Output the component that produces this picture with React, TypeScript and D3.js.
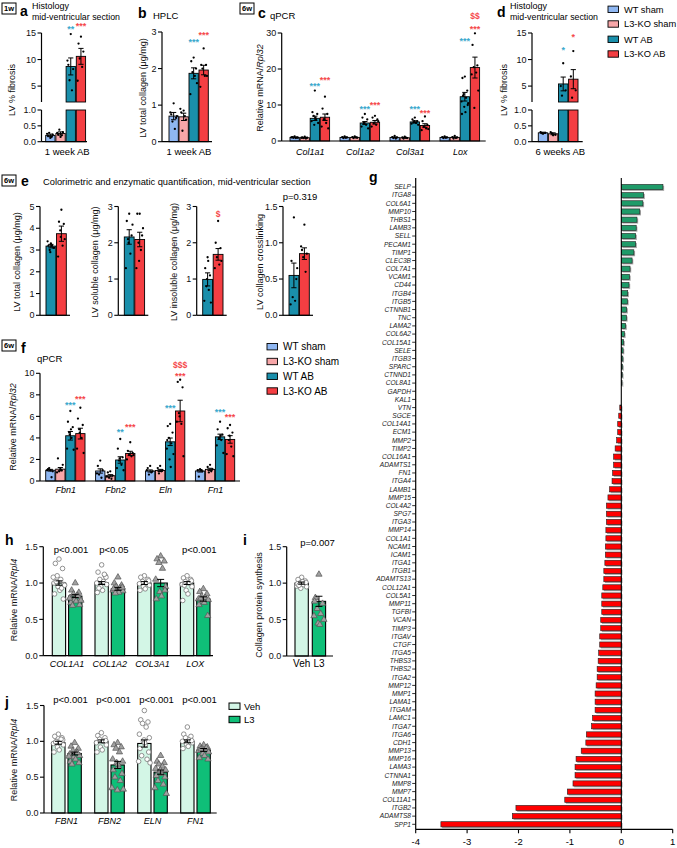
import React from "react";
import * as d3 from "d3";

const FONT = "'Liberation Sans', Arial, Helvetica, sans-serif";
const C4 = ["#8fb7f2", "#f7a6a8", "#1a8fab", "#f43e42"];
const STAR_T = "#3aa9cd";
const STAR_R = "#f5484b";
const C_VEH = "#d3f6e6";
const C_L3 = "#0fbf78";
const G_POS = "#1f9b69";
const G_NEG = "#ff0000";

const groupLabels = ["WT sham", "L3-KO sham", "WT AB", "L3-KO AB"];

// ---- panel a (1 week, histology) ----
const aMean = [0.2, 0.26, 8.7, 10.6];
const aSem = [0.04, 0.05, 1.6, 1.5];
const aPts = [
  [0.12, 0.18, 0.22, 0.28, 0.15, 0.25],
  [0.15, 0.22, 0.3, 0.38, 0.2, 0.28],
  [14.8, 9.0, 8.2, 6.1, 4.2, 9.8],
  [14.3, 13.0, 11.5, 10.2, 8.6, 6.0],
];
const aStars = [
  { s: 2, t: "**", v: 15.9 },
  { s: 3, t: "***", v: 16.5 },
];

// ---- panel b (HPLC) ----
const bMean = [0.7, 0.68, 1.87, 1.96];
const bSem = [0.1, 0.1, 0.15, 0.13];
const bPts = [
  [1.05, 0.75, 0.65, 0.55, 0.35, 0.8, 0.7],
  [0.85, 0.8, 0.6, 0.3, 0.7, 0.9],
  [2.3, 2.2, 2.0, 1.9, 1.8, 1.3, 1.6],
  [2.55, 2.1, 2.1, 2.0, 1.8, 1.5, 1.8],
];
const bStars = [
  { s: 2, t: "***", v: 2.75 },
  { s: 3, t: "***", v: 2.95 },
];

// ---- panel c (qPCR collagen) ----
const cGenes = ["Col1a1", "Col1a2", "Col3a1", "Lox"];
const cMean = [
  [1.0, 0.9, 6.3, 6.6],
  [1.0, 1.0, 5.0, 5.2],
  [1.0, 0.9, 5.3, 4.3],
  [1.0, 1.0, 12.3, 20.4],
];
const cSem = [
  [0.1, 0.1, 0.6, 0.9],
  [0.1, 0.1, 0.4, 0.5],
  [0.1, 0.1, 0.3, 0.5],
  [0.1, 0.1, 1.2, 2.9],
];
const cPts = [
  [[1.3, 1.1, 1.0, 0.9, 0.8, 1.0, 0.9], [1.2, 1.0, 0.9, 0.8, 0.7, 0.9], [14, 8, 7.5, 7, 6, 5.5, 5, 4.5, 6.5], [12.3, 9, 7.5, 6, 5, 4, 3.5, 6]],
  [[1.3, 1.1, 1.0, 0.8, 0.9], [1.3, 1.1, 0.9, 0.8, 1.0], [7.5, 6.5, 6, 5, 4.5, 4, 3.5, 5], [7, 6.5, 6, 5, 4.5, 4, 5.5]],
  [[1.4, 1.1, 1.0, 0.8, 0.7], [1.2, 1.0, 0.8, 0.7, 0.9], [6.5, 6, 5.5, 5.2, 5, 4.8, 4.5, 5.5], [6.8, 5.5, 4.5, 4, 3.5, 3, 3.3]],
  [[1.3, 1.1, 1.0, 0.8, 0.9], [1.4, 1.1, 1.0, 0.7, 0.8], [17.9, 17.5, 14, 13, 12, 11, 10.5, 9.5, 8, 7.5, 10, 12.5], [29.9, 26.7, 21, 20.5, 19, 18.5, 14, 9.2]],
];
const cStars = [
  { g: 0, s: 2, t: "***", v: 15.6 },
  { g: 0, s: 3, t: "***", v: 17.2 },
  { g: 1, s: 2, t: "***", v: 9.2 },
  { g: 1, s: 3, t: "***", v: 10.3 },
  { g: 2, s: 2, t: "***", v: 9.2 },
  { g: 2, s: 3, t: "***", v: 8.2 },
  { g: 3, s: 2, t: "***", v: 28 },
  { g: 3, s: 3, t: "***", v: 31.5 },
  { g: 3, s: 3, t: "$$", v: 34.6 },
];

// ---- panel d (6 weeks, histology) ----
const dMean = [0.28, 0.25, 5.4, 6.3];
const dSem = [0.02, 0.03, 1.3, 1.8];
const dPts = [
  [0.25, 0.3, 0.28, 0.27],
  [0.2, 0.3, 0.22, 0.26],
  [9.3, 5.0, 4.2, 3.2],
  [11.6, 6.8, 4.2, 2.8],
];
const dStars = [
  { s: 2, t: "*", v: 12.0 },
  { s: 3, t: "*", v: 14.4 },
];

// ---- panel e (colorimetric) ----
const eLabels = ["LV total collagen (μg/mg)", "LV soluble collagen (μg/mg)", "LV insoluble collagen (μg/mg)", "LV collagen crosslinking"];
const eMax = [5, 3, 3, 1.5];
const eTicks = [[0, 1, 2, 3, 4, 5], [0, 1, 2, 3], [0, 1, 2, 3], [0, 0.5, 1.0, 1.5]];
const eMean = [[3.18, 3.75], [2.16, 2.09], [0.99, 1.68], [0.55, 0.85]];
const eSem = [[0.08, 0.35], [0.2, 0.2], [0.18, 0.16], [0.17, 0.08]];
const ePts = [
  [[3.3, 3.2, 3.1, 3.0, 3.2, 3.4, 3.1, 2.9, 3.2], [4.85, 4.3, 4.2, 3.9, 3.2, 2.7, 3.5, 3.6]],
  [[2.8, 2.6, 2.2, 2.1, 1.7, 1.3, 2.5, 2.0], [2.8, 2.8, 2.2, 2.0, 1.8, 1.3, 2.4, 1.5]],
  [[1.6, 1.3, 1.1, 0.8, 0.7, 0.4, 0.35, 1.0, 1.5], [2.6, 2.0, 1.85, 1.6, 1.4, 1.3, 1.5]],
  [[1.35, 0.75, 0.5, 0.25, 0.2, 0.15, 0.65], [1.25, 0.9, 0.85, 0.8, 0.6, 0.95]],
];

// ---- panel f (qPCR ECM) ----
const fGenes = ["Fbn1", "Fbn2", "Eln", "Fn1"];
const fMean = [
  [1.0, 1.1, 4.2, 4.4],
  [0.93, 0.49, 1.95, 2.56],
  [0.93, 0.98, 3.64, 6.5],
  [0.93, 1.08, 4.1, 3.86],
];
const fSem = [
  [0.08, 0.15, 0.4, 0.5],
  [0.2, 0.1, 0.3, 0.2],
  [0.1, 0.1, 0.35, 1.0],
  [0.1, 0.1, 0.25, 0.35],
];
const fPts = [
  [[1.0, 1.1, 0.9, 1.2, 0.35, 1.0], [1.1, 2.1, 1.5, 0.9, 1.0, 0.8], [6.5, 5.5, 5.0, 4.5, 4.0, 3.0, 2.9, 4.3, 4.8], [6.8, 5.8, 5.2, 4.8, 4.0, 3.0, 2.6, 4.5]],
  [[1.9, 1.4, 1.0, 0.6, 0.3, 0.7], [0.9, 0.8, 0.5, 0.3, 0.2, 0.4], [3.9, 3.0, 2.2, 1.9, 1.5, 1.2, 1.0, 2.1], [3.6, 2.8, 2.6, 2.5, 2.3, 2.0, 2.4]],
  [[1.4, 1.2, 0.9, 0.6, 0.8, 1.0], [1.4, 1.2, 1.0, 0.7, 0.9], [5.3, 5.1, 4.5, 4.0, 3.5, 3.0, 2.5, 2.0, 1.3, 3.8], [9.4, 9.2, 8.7, 6.3, 5.3, 5.5, 2.3, 6.0]],
  [[1.1, 1.0, 0.9, 0.4, 1.0], [1.5, 1.3, 1.1, 0.8, 0.9], [5.5, 4.8, 4.3, 4.0, 3.8, 3.3, 2.6, 4.0, 4.2], [5.2, 4.9, 4.5, 3.8, 3.2, 2.5, 2.3, 4.2]],
];
const fStars = [
  { g: 0, s: 2, t: "***", v: 7.2 },
  { g: 0, s: 3, t: "***", v: 7.7 },
  { g: 1, s: 2, t: "**", v: 4.7 },
  { g: 1, s: 3, t: "***", v: 5.1 },
  { g: 2, s: 2, t: "***", v: 6.9 },
  { g: 2, s: 3, t: "***", v: 9.9 },
  { g: 2, s: 3, t: "$$$", v: 10.8 },
  { g: 3, s: 2, t: "***", v: 6.5 },
  { g: 3, s: 3, t: "***", v: 6.1 },
];

// ---- panel g (array, log fold change) ----
const gGenes = ["SELP", "ITGA8", "COL6A1", "MMP10", "THBS1", "LAMB3", "SELL", "PECAM1", "TIMP1", "CLEC3B", "COL7A1", "VCAM1", "CD44", "ITGB4", "ITGB5", "CTNNB1", "TNC", "LAMA2", "COL6A2", "COL15A1", "SELE", "ITGB3", "SPARC", "CTNND1", "COL8A1", "GAPDH", "KAL1", "VTN", "SGCE", "COL14A1", "ECM1", "MMP2", "TIMP2", "COL16A1", "ADAMTS1", "FN1", "ITGA4", "LAMB1", "MMP15", "COL4A2", "SPG7", "ITGA3", "MMP14", "COL1A1", "NCAM1", "ICAM1", "ITGA1", "ITGB1", "ADAMTS13", "COL12A1", "COL5A1", "MMP11", "TGFBI", "VCAN", "TIMP3", "ITGAV", "CTGF", "ITGA5", "THBS3", "THBS2", "ITGA2", "MMP12", "MMP1", "LAMA1", "ITGAM", "LAMC1", "ITGA7", "ITGA6", "CDH1", "MMP13", "MMP16", "LAMA3", "CTNNA1", "MMP8", "MMP7", "COL11A1", "ITGB2", "ADAMTS8", "SPP1"];
const gValues = [0.81, 0.435, 0.42, 0.36, 0.305, 0.29, 0.28, 0.28, 0.245, 0.21, 0.17, 0.16, 0.15, 0.125, 0.12, 0.105, 0.1, 0.085, 0.06, 0.045, 0.035, 0.03, 0.025, 0.02, 0.015, 0.005, 0.003, -0.03, -0.05, -0.07, -0.07, -0.09, -0.12, -0.15, -0.15, -0.17, -0.18, -0.23, -0.26, -0.29, -0.29, -0.29, -0.3, -0.3, -0.31, -0.31, -0.32, -0.34, -0.34, -0.36, -0.38, -0.38, -0.38, -0.4, -0.4, -0.42, -0.42, -0.44, -0.45, -0.47, -0.47, -0.49, -0.51, -0.51, -0.51, -0.56, -0.58, -0.68, -0.69, -0.78, -0.88, -0.9, -0.9, -0.94, -1.05, -1.1, -2.05, -2.12, -3.51];
const gTicks = [-4, -3, -2, -1, 0, 1];

// ---- panels h, i, j (human cells) ----
const hjSeries = ["Veh", "L3"];
const hGenes = ["COL1A1", "COL1A2", "COL3A1", "LOX"];
const hMean = [[1.0, 0.82], [1.0, 0.92], [1.0, 1.0], [1.0, 0.78]];
const hSem = [[0.03, 0.02], [0.02, 0.02], [0.02, 0.05], [0.02, 0.03]];
const hP = ["p<0.001", "p<0.05", "", "p<0.001"];
const hPts = [
  [[1.33, 1.27, 1.2, 1.1, 1.05, 1.0, 0.98, 0.95, 0.9, 0.85, 0.78, 1.02, 0.93, 1.08, 0.97], [1.0, 0.9, 0.87, 0.85, 0.83, 0.8, 0.78, 0.77, 0.75, 0.73, 0.7, 0.69, 0.82, 0.79, 0.76]],
  [[1.25, 1.15, 1.1, 1.05, 1.02, 1.0, 0.98, 0.95, 0.9, 0.87, 1.08, 0.93, 1.12], [1.08, 1.0, 0.97, 0.95, 0.93, 0.9, 0.89, 0.88, 0.87, 0.92, 0.94, 0.86]],
  [[1.1, 1.08, 1.05, 1.02, 1.0, 0.99, 0.97, 0.95, 0.92, 0.9, 1.03], [1.37, 1.33, 1.3, 1.28, 1.2, 1.05, 0.95, 0.88, 0.82, 0.78, 0.9]],
  [[1.1, 1.07, 1.05, 1.02, 1.0, 0.98, 0.95, 0.9, 0.85, 0.76, 1.03, 0.97], [0.92, 0.88, 0.85, 0.82, 0.8, 0.78, 0.77, 0.75, 0.73, 0.7, 0.55, 0.79]],
];
const iLabels = ["Veh", "L3"];
const iMean = [1.0, 0.75];
const iSem = [0.015, 0.07];
const iP = "p=0.007";
const iPts = [
  [1.08, 1.05, 1.03, 1.0, 0.98, 0.96, 0.95, 0.93, 1.02, 0.99, 1.01, 0.97],
  [1.12, 0.8, 0.72, 0.65, 0.58, 0.55, 0.5, 0.45, 0.43, 0.75],
];
const jGenes = ["FBN1", "FBN2", "ELN", "FN1"];
const jMean = [[0.98, 0.83], [1.0, 0.67], [0.97, 0.57], [1.0, 0.88]];
const jSem = [[0.02, 0.02], [0.02, 0.05], [0.05, 0.03], [0.02, 0.02]];
const jP = ["p<0.001", "p<0.001", "p<0.001", "p<0.001"];
const jPts = [
  [[1.1, 1.07, 1.05, 1.0, 0.98, 0.97, 0.95, 0.92, 0.88, 0.85, 1.02, 0.99, 1.03], [0.98, 0.93, 0.9, 0.87, 0.85, 0.82, 0.8, 0.78, 0.75, 0.72, 0.7, 0.68, 0.84, 0.79]],
  [[1.12, 1.08, 1.05, 1.03, 1.0, 0.98, 0.95, 0.92, 0.88, 0.85, 1.01], [0.98, 0.95, 0.92, 0.9, 0.85, 0.75, 0.72, 0.7, 0.65, 0.6, 0.55, 0.5, 0.45, 0.35, 0.33, 0.32, 0.68]],
  [[1.43, 1.3, 1.27, 1.25, 1.2, 1.1, 1.05, 1.0, 0.95, 0.9, 0.85, 0.8, 0.75, 0.72, 0.7, 1.02, 0.98], [0.8, 0.72, 0.7, 0.68, 0.65, 0.62, 0.6, 0.58, 0.55, 0.52, 0.5, 0.45, 0.4, 0.35, 0.27, 0.6]],
  [[1.2, 1.1, 1.07, 1.05, 1.02, 1.0, 0.98, 0.96, 0.93, 0.9, 1.01], [0.95, 0.93, 0.92, 0.9, 0.88, 0.87, 0.85, 0.83, 0.8, 0.77, 0.75, 0.89, 0.91]],
];

// ---------- helpers ----------
const JIT = [0, -2.4, 2.4, -1.2, 1.2, -3.3, 3.3, -0.6, 0.6, -2.9, 2.9, -1.8, 1.8, -3.8, 3.8, -0.2, 0.2];

type Scale = (v: number) => number;

function YAxis({ x, y, ticks, fmt, top, bottom, fs = 9 }: { x: number; y: Scale; ticks: number[]; fmt: (v: number) => string; top: number; bottom: number; fs?: number }) {
  return (
    <g>
      <line x1={x} x2={x} y1={top} y2={bottom} stroke="#000" strokeWidth={1.2} />
      {ticks.map((t) => (
        <g key={t}>
          <line x1={x - 4} x2={x} y1={y(t)} y2={y(t)} stroke="#000" strokeWidth={1.1} />
          <text x={x - 5.5} y={y(t)} dy="0.35em" textAnchor="end" fontSize={fs} fill="#111">
            {fmt(t)}
          </text>
        </g>
      ))}
    </g>
  );
}

function VLabel({ x, y, children, fs = 9 }: { x: number; y: number; children: any; fs?: number }) {
  return (
    <text transform={`translate(${x},${y}) rotate(-90)`} textAnchor="middle" fontSize={fs} fill="#111">
      {children}
    </text>
  );
}

function ErrBar({ cx, y1, y2, cap = 2.6 }: { cx: number; y1: number; y2: number; cap?: number }) {
  return (
    <g stroke="#000" strokeWidth={1}>
      <line x1={cx} x2={cx} y1={y1} y2={y2} />
      <line x1={cx - cap} x2={cx + cap} y1={y1} y2={y1} />
      <line x1={cx - cap} x2={cx + cap} y1={y2} y2={y2} />
    </g>
  );
}

function Dots({ cx, vals, y, spread = 1, r = 1.15 }: { cx: number; vals: number[]; y: Scale; spread?: number; r?: number }) {
  return (
    <g>
      {vals.map((v, i) => (
        <circle key={i} cx={cx + JIT[i % JIT.length] * spread} cy={y(v)} r={r} fill="#000" />
      ))}
    </g>
  );
}

const triPath = d3.symbol(d3.symbolTriangle, 17)() as string;

function HollowPts({ cx, vals, y, kind, spread }: { cx: number; vals: number[]; y: Scale; kind: "c" | "t"; spread: number }) {
  return (
    <g>
      {vals.map((v, i) => {
        const x = cx + JIT[i % JIT.length] * spread;
        return kind === "c" ? (
          <circle key={i} cx={x} cy={y(v)} r={2.3} fill="#fff" stroke="#777" strokeWidth={0.8} />
        ) : (
          <path key={i} d={triPath} transform={`translate(${x},${y(v)})`} fill="#a0a0a0" stroke="#555" strokeWidth={0.7} />
        );
      })}
    </g>
  );
}

function Star({ x, y, t, color }: { x: number; y: number; t: string; color: string }) {
  const isStar = t.startsWith("*");
  return (
    <text x={x} y={isStar ? y + 4.2 : y + 3} textAnchor="middle" fontSize={isStar ? 9 : 8.5} fontWeight="bold" fill={color}>
      {t}
    </text>
  );
}

function Box({ x, y, t }: { x: number; y: number; t: string }) {
  return (
    <g>
      <rect x={x} y={y} width={14} height={11} fill="#fff" stroke="#000" strokeWidth={1} />
      <text x={x + 7} y={y + 8.3} textAnchor="middle" fontSize={7.5} fontWeight="bold">
        {t}
      </text>
    </g>
  );
}

function Letter({ x, y, t }: { x: number; y: number; t: string }) {
  return (
    <text x={x} y={y} fontSize={14} fontWeight="bold" fill="#000">
      {t}
    </text>
  );
}

// simple 4-bar panel (no break)
function FourBars({ x0, step, w, y, means, sems, pts, base }: { x0: number; step: number; w: number; y: Scale; means: number[]; sems: number[]; pts: number[][]; base: number }) {
  return (
    <g>
      {means.map((m, i) => {
        const x = x0 + i * step;
        const cx = x + w / 2;
        return (
          <g key={i}>
            <rect x={x} y={y(m)} width={w} height={base - y(m)} fill={C4[i]} stroke="#000" strokeWidth={0.9} />
            <Dots cx={cx} vals={pts[i]} y={y} spread={w / 9.3} />
            <ErrBar cx={cx} y1={y(m + sems[i])} y2={y(Math.max(0, m - sems[i]))} />
          </g>
        );
      })}
    </g>
  );
}

// broken axis panel (a, d)
function BrokenPanel({ ax, x0, step, w, means, sems, pts, stars, xEnd, label }: any) {
  const yU = d3.scaleLinear().domain([2, 15]).range([102, 33]);
  const yL = d3.scaleLinear().domain([0, 1]).range([141.7, 110]);
  const yy = (v: number) => (v >= 2 ? yU(v) : yL(Math.min(v, 1)));
  return (
    <g>
      <YAxis x={ax} y={yU} ticks={[5, 10, 15]} fmt={(v) => String(v)} top={yU(15)} bottom={yU(2)} />
      <YAxis x={ax} y={yL} ticks={[0, 0.5, 1]} fmt={d3.format(".1f")} top={yL(1)} bottom={yL(0)} />
      {means.map((m: number, i: number) => {
        const x = x0 + i * step;
        const cx = x + w / 2;
        return (
          <g key={i}>
            {m >= 2 ? (
              <>
                <rect x={x} y={yU(m)} width={w} height={yU(2) - yU(m)} fill={C4[i]} stroke="#000" strokeWidth={0.9} />
                <rect x={x} y={yL(1)} width={w} height={yL(0) - yL(1)} fill={C4[i]} stroke="#000" strokeWidth={0.9} />
              </>
            ) : (
              <rect x={x} y={yL(m)} width={w} height={yL(0) - yL(m)} fill={C4[i]} stroke="#000" strokeWidth={0.9} />
            )}
            <Dots cx={cx} vals={pts[i]} y={yy} spread={w / 9.3} />
            <ErrBar cx={cx} y1={yy(m + sems[i])} y2={yy(m - sems[i])} />
          </g>
        );
      })}
      {stars.map((s: any, k: number) => (
        <Star key={k} x={x0 + s.s * step + w / 2} y={yU(s.v)} t={s.t} color={s.s === 2 ? STAR_T : STAR_R} />
      ))}
      <line x1={ax} x2={xEnd} y1={yL(0)} y2={yL(0)} stroke="#000" strokeWidth={1.2} />
      <text x={(ax + xEnd) / 2 + 3} y={152} dy="0.35em" textAnchor="middle" fontSize={9.5}>
        {label}
      </text>
    </g>
  );
}

function PanelA() {
  return (
    <g>
      <Box x={2} y={3} t="1w" />
      <Letter x={20} y={16} t="a" />
      <text x={32} y={9} fontSize={9}>Histology</text>
      <text x={32} y={20} fontSize={8.8}>mid-ventricular section</text>
      <BrokenPanel ax={41.5} x0={45.7} step={10.2} w={9.3} means={aMean} sems={aSem} pts={aPts} stars={aStars} xEnd={87} label="1 week AB" />
      <VLabel x={15} y={90}>LV % fibrosis</VLabel>
    </g>
  );
}

function PanelD() {
  return (
    <g>
      <Letter x={497} y={17} t="d" />
      <text x={510} y={9} fontSize={9}>Histology</text>
      <text x={510} y={20} fontSize={8.8}>mid-ventricular section</text>
      <BrokenPanel ax={532} x0={538.3} step={10.1} w={9.4} means={dMean} sems={dSem} pts={dPts} stars={dStars} xEnd={582.7} label="6 weeks AB" />
      <VLabel x={507} y={90}>LV % fibrosis</VLabel>
    </g>
  );
}

function PanelB() {
  const y = d3.scaleLinear().domain([0, 3]).range([141.7, 32]);
  const x0 = 169, step = 10, w = 9.3;
  return (
    <g>
      <Letter x={138} y={18} t="b" />
      <text x={153} y={19} fontSize={9.5}>HPLC</text>
      <YAxis x={162} y={y} ticks={[0, 1, 2, 3]} fmt={(v) => String(v)} top={y(3)} bottom={y(0)} />
      <FourBars x0={x0} step={step} w={w} y={y} means={bMean} sems={bSem} pts={bPts} base={y(0)} />
      {bStars.map((s, k) => (
        <Star key={k} x={x0 + s.s * step + w / 2} y={y(s.v)} t={s.t} color={s.s === 2 ? STAR_T : STAR_R} />
      ))}
      <line x1={162} x2={212} y1={y(0)} y2={y(0)} stroke="#000" strokeWidth={1.2} />
      <text x={189} y={152} dy="0.35em" textAnchor="middle" fontSize={9.5}>1 week AB</text>
      <VLabel x={146} y={88}>LV total collagen (μg/mg)</VLabel>
    </g>
  );
}

function GroupedPanel({ ax, xEnd, y, genes, g0, gstep, step, w, means, sems, pts, stars, labelY }: any) {
  return (
    <g>
      {genes.map((gname: string, g: number) => (
        <g key={gname}>
          <FourBars x0={g0 + g * gstep} step={step} w={w} y={y} means={means[g]} sems={sems[g]} pts={pts[g]} base={y(0)} />
          <text x={g0 + g * gstep + 2 * step} y={labelY} dy="0.35em" textAnchor="middle" fontSize={9} fontStyle="italic">
            {gname}
          </text>
        </g>
      ))}
      {stars.map((s: any, k: number) => (
        <Star key={k} x={g0 + s.g * gstep + s.s * step + w / 2} y={y(s.v)} t={s.t} color={s.s === 2 ? STAR_T : STAR_R} />
      ))}
      <line x1={ax} x2={xEnd} y1={y(0)} y2={y(0)} stroke="#000" strokeWidth={1.2} />
    </g>
  );
}

function PanelC() {
  const y = d3.scaleLinear().domain([0, 30]).range([141, 33]);
  return (
    <g>
      <Box x={240} y={3} t="6w" />
      <Letter x={258} y={18} t="c" />
      <text x={270} y={19} fontSize={9.5}>qPCR</text>
      <YAxis x={281.7} y={y} ticks={[0, 10, 20, 30]} fmt={(v) => String(v)} top={y(30)} bottom={y(0)} />
      <GroupedPanel ax={281.7} xEnd={485.7} y={y} genes={cGenes} g0={290} gstep={50} step={10.1} w={9.3} means={cMean} sems={cSem} pts={cPts} stars={cStars} labelY={152} />
      <VLabel x={263} y={88}>
        Relative mRNA/<tspan fontStyle="italic">Rpl32</tspan>
      </VLabel>
    </g>
  );
}

function Legend4({ x, ys, fs = 9.5 }: { x: number; ys: number[]; fs?: number }) {
  return (
    <g>
      {groupLabels.map((l, i) => (
        <g key={l}>
          <rect x={x} y={ys[i] - 3.2} width={10.5} height={6.4} fill={C4[i]} stroke="#000" strokeWidth={0.9} />
          <text x={x + 16} y={ys[i]} dy="0.35em" fontSize={fs}>
            {l}
          </text>
        </g>
      ))}
    </g>
  );
}

function PanelE() {
  const axes = [40, 118.3, 196.7, 283];
  return (
    <g>
      <Box x={2} y={175} t="6w" />
      <Letter x={21} y={186} t="e" />
      <text x={43} y={185} fontSize={9.3}>Colorimetric and enzymatic quantification, mid-ventricular section</text>
      {axes.map((ax, k) => {
        const y = d3.scaleLinear().domain([0, eMax[k]]).range([315.3, 206.5]);
        const fmt = k === 3 ? d3.format(".1f") : (v: number) => String(v);
        const w = 9.8;
        return (
          <g key={k}>
            <YAxis x={ax} y={y} ticks={eTicks[k]} fmt={fmt} top={y(eMax[k])} bottom={y(0)} />
            {eMean[k].map((m, i) => {
              const x = ax + 6 + i * 10.5;
              const cx = x + w / 2;
              return (
                <g key={i}>
                  <rect x={x} y={y(m)} width={w} height={y(0) - y(m)} fill={C4[2 + i]} stroke="#000" strokeWidth={0.9} />
                  <Dots cx={cx} vals={ePts[k][i]} y={y} />
                  <ErrBar cx={cx} y1={y(m + eSem[k][i])} y2={y(m - eSem[k][i])} />
                </g>
              );
            })}
            <line x1={ax} x2={ax + 30} y1={y(0)} y2={y(0)} stroke="#000" strokeWidth={1.2} />
            <VLabel x={ax - 20} y={262}>{eLabels[k]}</VLabel>
            {k === 2 && <Star x={ax + 6 + 10.5 + w / 2} y={y(2.8)} t="$" color={STAR_R} />}
            {k === 3 && (
              <text x={ax + 17} y={197} dy="0.35em" textAnchor="middle" fontSize={9.5}>
                p=0.319
              </text>
            )}
          </g>
        );
      })}
    </g>
  );
}

function PanelF() {
  const y = d3.scaleLinear().domain([0, 10]).range([481, 373.3]);
  return (
    <g>
      <Box x={2} y={340} t="6w" />
      <Letter x={21} y={353} t="f" />
      <text x={37} y={362} fontSize={9.5}>qPCR</text>
      <YAxis x={40} y={y} ticks={[0, 2, 4, 6, 8, 10]} fmt={(v) => String(v)} top={y(10)} bottom={y(0)} />
      <GroupedPanel ax={40} xEnd={240} y={y} genes={fGenes} g0={45.7} gstep={49.9} step={10} w={9.3} means={fMean} sems={fSem} pts={fPts} stars={fStars} labelY={490} />
      <VLabel x={16} y={427}>
        Relative mRNA/<tspan fontStyle="italic">Rpl32</tspan>
      </VLabel>
      <Legend4 x={267} ys={[346.7, 361.5, 376.3, 391]} fs={10} />
    </g>
  );
}

function HumanBars({ ax, xEnd, y, genes, g0, gstep, means, sems, pts, pvals, pY, labelY }: any) {
  const w = 13.3;
  return (
    <g>
      {genes.map((gname: string, g: number) => {
        const gx = g0 + g * gstep;
        return (
          <g key={gname}>
            {[0, 1].map((s) => {
              const x = gx + s * 16.3;
              const cx = x + w / 2;
              const m = means[g][s];
              return (
                <g key={s}>
                  <rect x={x} y={y(m)} width={w} height={y(0) - y(m)} fill={s === 0 ? C_VEH : C_L3} stroke="#000" strokeWidth={1.1} />
                  <HollowPts cx={cx} vals={pts[g][s]} y={y} kind={s === 0 ? "c" : "t"} spread={1.5} />
                  <ErrBar cx={cx} y1={y(m + sems[g][s])} y2={y(m - sems[g][s])} cap={3.5} />
                </g>
              );
            })}
            <text x={gx + 14.8} y={labelY} dy="0.35em" textAnchor="middle" fontSize={9} fontStyle="italic">
              {gname}
            </text>
            {pvals[g] && (
              <text x={gx + 14.8 + 4} y={pY} dy="0.35em" textAnchor="middle" fontSize={9.5}>
                {pvals[g]}
              </text>
            )}
          </g>
        );
      })}
      <line x1={ax} x2={xEnd} y1={y(0)} y2={y(0)} stroke="#000" strokeWidth={1.2} />
    </g>
  );
}

function PanelH() {
  const y = d3.scaleLinear().domain([0, 1.5]).range([655.7, 546.7]);
  return (
    <g>
      <Letter x={5} y={545} t="h" />
      <YAxis x={43.3} y={y} ticks={[0, 0.5, 1, 1.5]} fmt={d3.format(".1f")} top={y(1.5)} bottom={y(0)} />
      <HumanBars ax={43.3} xEnd={213} y={y} genes={hGenes} g0={52.3} gstep={42.7} means={hMean} sems={hSem} pts={hPts} pvals={hP} pY={550} labelY={663.5} />
      <VLabel x={17} y={600}>
        Relative mRNA/<tspan fontStyle="italic">Rpl4</tspan>
      </VLabel>
    </g>
  );
}

function PanelI() {
  const y = d3.scaleLinear().domain([0, 1.5]).range([656, 546.7]);
  const w = 13.3;
  return (
    <g>
      <Letter x={243} y={545} t="i" />
      <YAxis x={286.7} y={y} ticks={[0, 0.5, 1, 1.5]} fmt={d3.format(".1f")} top={y(1.5)} bottom={y(0)} />
      {iMean.map((m, s) => {
        const x = 295 + s * 17.3;
        const cx = x + w / 2;
        return (
          <g key={s}>
            <rect x={x} y={y(m)} width={w} height={y(0) - y(m)} fill={s === 0 ? C_VEH : C_L3} stroke="#000" strokeWidth={1.1} />
            <HollowPts cx={cx} vals={iPts[s]} y={y} kind={s === 0 ? "c" : "t"} spread={1.5} />
            <ErrBar cx={cx} y1={y(m + iSem[s])} y2={y(m - iSem[s])} cap={3.5} />
            <text x={cx} y={663.5} dy="0.35em" textAnchor="middle" fontSize={10}>
              {iLabels[s]}
            </text>
          </g>
        );
      })}
      <line x1={286.7} x2={333} y1={y(0)} y2={y(0)} stroke="#000" strokeWidth={1.2} />
      <text x={317.5} y={543} dy="0.35em" textAnchor="middle" fontSize={9.5}>{iP}</text>
      <VLabel x={262} y={605}>Collagen protein synthesis</VLabel>
    </g>
  );
}

function PanelJ() {
  const y = d3.scaleLinear().domain([0, 1.5]).range([813, 705.5]);
  return (
    <g>
      <Letter x={5} y={707} t="j" />
      <YAxis x={44} y={y} ticks={[0, 0.5, 1, 1.5]} fmt={d3.format(".1f")} top={y(1.5)} bottom={y(0)} />
      <HumanBars ax={44} xEnd={216.7} y={y} genes={jGenes} g0={51.7} gstep={43} means={jMean} sems={jSem} pts={jPts} pvals={jP} pY={700} labelY={821} />
      <VLabel x={17} y={760}>
        Relative mRNA/<tspan fontStyle="italic">Rpl4</tspan>
      </VLabel>
      {hjSeries.map((s, i) => (
        <g key={s}>
          <rect x={229} y={703 + i * 13.3} width={11} height={6.4} fill={i === 0 ? C_VEH : C_L3} stroke="#000" strokeWidth={1} />
          <text x={244} y={706.2 + i * 13.3} dy="0.35em" fontSize={9.5}>{s}</text>
        </g>
      ))}
    </g>
  );
}

function PanelG() {
  const x = d3.scaleLinear().domain([-4, 1]).range([415.7, 672.7]);
  const y = d3.scalePoint<string>().domain(gGenes).range([187, 824.3]);
  const bh = 5.2;
  const axisY = 829.3;
  return (
    <g>
      <Letter x={369} y={182} t="g" />
      {gGenes.map((gname, i) => {
        const v = gValues[i];
        const cy = y(gname) as number;
        const x1 = Math.min(x(0), x(v));
        const wd = Math.abs(x(v) - x(0));
        return (
          <g key={gname}>
            {wd > 0.4 && (
              <>
                <rect x={x1 + 1.2} y={cy - bh / 2 + 1.3} width={wd} height={bh} fill="#a8a8a8" />
                <rect x={x1} y={cy - bh / 2} width={wd} height={bh} fill={v >= 0 ? G_POS : G_NEG} stroke="#222" strokeWidth={0.6} />
              </>
            )}
            <line x1={412.2} x2={415.7} y1={cy} y2={cy} stroke="#000" strokeWidth={0.8} />
            <text x={411} y={cy} dy="0.35em" textAnchor="end" fontSize={6.6} fontStyle="italic" fill="#222">
              {gname}
            </text>
          </g>
        );
      })}
      <line x1={415.7} x2={415.7} y1={178} y2={axisY} stroke="#000" strokeWidth={1.2} />
      <line x1={x(0)} x2={x(0)} y1={178} y2={axisY} stroke="#000" strokeWidth={1.1} />
      <line x1={415.7} x2={672.7} y1={axisY} y2={axisY} stroke="#000" strokeWidth={1.2} />
      {gTicks.map((t) => (
        <g key={t}>
          <line x1={x(t)} x2={x(t)} y1={axisY} y2={axisY + 4} stroke="#000" strokeWidth={1.1} />
          <text x={x(t)} y={842} dy="0.35em" textAnchor="middle" fontSize={9.5}>
            {String(t)}
          </text>
        </g>
      ))}
    </g>
  );
}

export default function App() {
  return (
    <div style={{ position: "absolute", left: 0, top: 0 }}>
      <svg width={677} height={848} viewBox="0 0 677 848" style={{ display: "block", background: "#fff", fontFamily: FONT }}>
        <rect x={0} y={0} width={677} height={848} fill="#fff" />
        <PanelA />
        <PanelB />
        <PanelC />
        <PanelD />
        <Legend4 x={608} ys={[9.3, 24, 39.3, 54]} fs={9.3} />
        <PanelE />
        <PanelF />
        <PanelG />
        <PanelH />
        <PanelI />
        <PanelJ />
      </svg>
    </div>
  );
}
